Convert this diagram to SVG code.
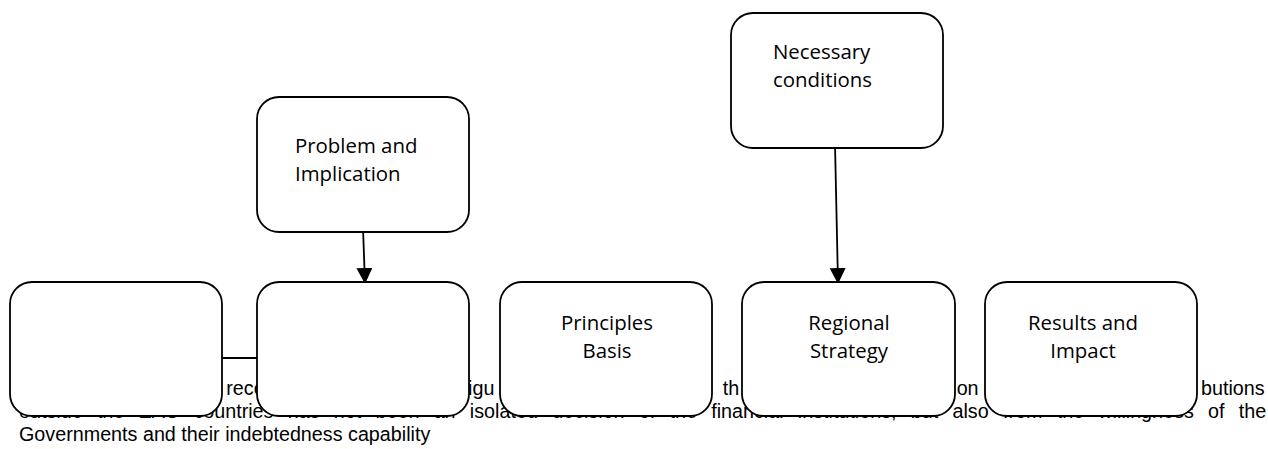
<svg xmlns="http://www.w3.org/2000/svg" width="1268" height="449" viewBox="0 0 1268 449">
<defs>
<style>
.body{font-family:"Liberation Sans",Arial,sans-serif;font-size:20px;fill:#000}
.box{fill:#fff;stroke:#000;stroke-width:1.8}
.lbl{font-family:"Open Sans","Noto Sans",sans-serif;font-size:20.4px;fill:#000}
.ln{stroke:#000;stroke-width:1.8;fill:none}
</style>
<marker id="ah" markerWidth="16" markerHeight="16" viewBox="0 0 16 16" refX="15" refY="8" orient="auto" markerUnits="userSpaceOnUse">
<path d="M0,0 L16,8 L0,16 Z" fill="#000"/>
</marker>
</defs>
<rect width="1268" height="449" fill="#fff"/>
<g id="body-text">
<g transform="translate(19 0) scale(0.987 1)">
<text class="body" x="210" y="395">reco</text>
<text class="body" x="455" y="395">igu</text>
<text class="body" x="713" y="395">th</text>
<text class="body" x="950" y="395">on</text>
<text class="body" x="1262" y="395" text-anchor="end">butions</text>
<text class="body" x="0" y="418" style="word-spacing:8.9px">outside the EAC countries has not been an isolated decision of the financial institutions, but also from the willingness of the</text>
<text class="body" x="0" y="441">Governments and their indebtedness capability</text>
</g>
</g>
<g id="connectors">
<line class="ln" x1="222" y1="358" x2="257" y2="358"/>
<line class="ln" x1="363" y1="228" x2="365" y2="283" marker-end="url(#ah)"/>
<line class="ln" x1="835" y1="144" x2="838" y2="283" marker-end="url(#ah)"/>
</g>
<g id="node-problem">
<rect class="box" x="257" y="97" width="212" height="135" rx="22"/>
<text class="lbl" x="295" y="153">Problem and</text>
<text class="lbl" x="295" y="181">Implication</text>
</g>
<g id="node-necessary">
<rect class="box" x="731" y="13" width="212" height="135" rx="22"/>
<text class="lbl" x="773" y="59">Necessary</text>
<text class="lbl" x="773" y="87">conditions</text>
</g>
<g id="node-1">
<rect class="box" x="10" y="282" width="212" height="134" rx="22"/>
</g>
<g id="node-2">
<rect class="box" x="257" y="282" width="212" height="134" rx="22"/>
</g>
<g id="node-principles">
<rect class="box" x="500" y="282" width="212" height="134" rx="22"/>
<text class="lbl" x="607" y="330" text-anchor="middle">Principles</text>
<text class="lbl" x="607" y="358" text-anchor="middle">Basis</text>
</g>
<g id="node-regional">
<rect class="box" x="742" y="282" width="213" height="134" rx="22"/>
<text class="lbl" x="849" y="330" text-anchor="middle">Regional</text>
<text class="lbl" x="849" y="358" text-anchor="middle">Strategy</text>
</g>
<g id="node-results">
<rect class="box" x="985" y="282" width="212" height="134" rx="22"/>
<text class="lbl" x="1083" y="330" text-anchor="middle">Results and</text>
<text class="lbl" x="1083" y="358" text-anchor="middle">Impact</text>
</g>
</svg>
